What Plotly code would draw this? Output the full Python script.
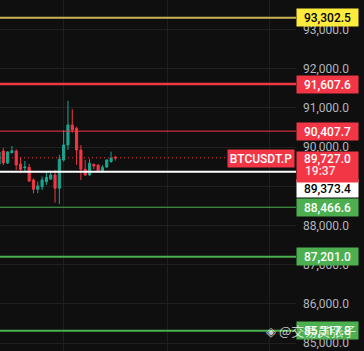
import plotly.graph_objects as go

# ---------------- data ----------------
candle_idx = list(range(28))
opens = [89560, 89901, 89595, 89858, 89901, 89570, 89473, 89486, 89162, 88924,
         88991, 89118, 89187, 89289, 88950, 89672, 90055, 90565, 90480, 89927,
         89435, 89289, 89562, 89544, 89373, 89493, 89629, 89745]
highs = [89910, 89978, 89901, 90029, 89945, 89741, 89646, 89570, 89205, 89118,
         89246, 89373, 89399, 89417, 89799, 90437, 91185, 90965, 90521, 90055,
         89672, 89690, 89570, 89557, 89544, 89690, 89884, 89774]
lows = [89520, 89544, 89570, 89838, 89417, 89333, 89391, 89111, 88822, 88822,
        88907, 89034, 89162, 88583, 88549, 89629, 89927, 90368, 89544, 89162,
        89264, 89264, 89435, 89366, 89348, 89468, 89603, 89654]
closes = [89876, 89595, 89876, 89909, 89544, 89435, 89493, 89136, 88924, 89009,
          89162, 89231, 89289, 88950, 89690, 90055, 90565, 90437, 89927, 89435,
          89289, 89588, 89519, 89373, 89486, 89672, 89715, 89727]

y_ticks = [85000, 86000, 87000, 88000, 89000, 90000, 91000, 92000, 93000]
y_tick_labels = ["85,000.0", "86,000.0", "87,000.0", "88,000.0", "89,000.0",
                 "90,000.0", "91,000.0", "92,000.0", "93,000.0"]

level_prices = [93302.5, 91607.6, 90407.7, 89373.4, 88466.6, 87201.0, 85317.8]
level_labels = ["93,302.5", "91,607.6", "90,407.7", "89,373.4", "88,466.6",
                "87,201.0", "85,317.8"]

last_price = 89727.0
last_price_label = "89,727.0"
countdown = "19:37"
symbol = "BTCUSDT.P"
watermark = "@交易员张子"

# ---------------- styles ----------------
BG = "#0f0f0f"
GRID = "#1f1f1f"
UP = "#1aa58f"
DOWN = "#f23645"
line_colors = ["#c9b458", "#f23645", "#f23645", "#ffffff", "#4caf50", "#4caf50", "#4caf50"]
line_widths = [2, 2.5, 1, 2, 1, 2, 2]
box_colors = ["#ffeb3b", "#f23645", "#f23645", "#ffffff", "#4caf50", "#4caf50", "#4caf50"]
text_colors = ["#000000", "#ffffff", "#ffffff", "#000000", "#ffffff", "#ffffff", "#ffffff"]
box_yshift = [0, 0, 0, -17, 0, 0, 0]
FONT = "Roboto"

fig = go.Figure()
fig.add_trace(go.Candlestick(
    x=candle_idx, open=opens, high=highs, low=lows, close=closes,
    increasing=dict(line=dict(color=UP, width=1), fillcolor=UP),
    decreasing=dict(line=dict(color=DOWN, width=1), fillcolor=DOWN),
    whiskerwidth=0, showlegend=False, hoverinfo="skip",
))

shapes = [dict(type="line", xref="paper", x0=0, x1=1, yref="y",
               y0=last_price, y1=last_price, layer="below",
               line=dict(color=DOWN, width=1, dash="1px,3px"))]
for p, c, w in zip(level_prices, line_colors, line_widths):
    shapes.append(dict(type="line", xref="paper", x0=0, x1=1, yref="y",
                       y0=p, y1=p, layer="above", line=dict(color=c, width=w)))

annotations = []
for p, lab, bc, tc, ys in zip(level_prices, level_labels, box_colors, text_colors, box_yshift):
    annotations.append(dict(
        xref="paper", x=1, xanchor="left", yref="y", y=p, yanchor="middle",
        yshift=ys, text=lab, showarrow=False, bgcolor=bc, borderpad=1,
        width=59, height=15, align="center",
        font=dict(family=FONT, size=12, color=tc, weight=500)))

# last price box (tall, with countdown inside)
annotations.append(dict(
    xref="paper", x=1, xanchor="left", yref="y", y=last_price, yanchor="top",
    yshift=7, text=last_price_label, showarrow=False,
    bgcolor=DOWN, borderpad=0, width=61, height=30, align="center", valign="top",
    font=dict(family=FONT, size=12, color="#ffffff", weight=500)))
annotations.append(dict(
    xref="paper", x=1, xanchor="left", xshift=7, yref="y", y=last_price,
    yanchor="middle", yshift=-13, text=countdown, showarrow=False,
    font=dict(family=FONT, size=12, color="#ffe3e6", weight=500)))

# symbol tag
annotations.append(dict(
    xref="paper", x=1, xanchor="right", xshift=-1, yref="y", y=last_price,
    yanchor="middle", yshift=-1, text=symbol, showarrow=False, bgcolor=DOWN,
    borderpad=1, width=64, height=15, align="center",
    font=dict(family=FONT, size=12, color="#ffffff", weight=500)))

# watermark
annotations.append(dict(
    xref="paper", x=358 / 296, xanchor="right", yref="y", y=level_prices[-1],
    yanchor="middle", text="◈ " + watermark, showarrow=False,
    font=dict(family="Noto Sans CJK SC", size=13, color="rgba(255,255,255,0.75)")))

fig.update_layout(
    width=364, height=351,
    margin=dict(l=0, r=68, t=0, b=0),
    paper_bgcolor=BG, plot_bgcolor=BG,
    shapes=shapes, annotations=annotations,
    xaxis=dict(range=[0.232, 68.91], showticklabels=False, ticks="",
               tickvals=[14.85, 38.98, 62.65], gridcolor=GRID, gridwidth=1,
               zeroline=False, showline=False, rangeslider=dict(visible=False),
               fixedrange=True),
    yaxis=dict(range=[84799, 93753], side="right", tickvals=y_ticks,
               ticktext=y_tick_labels, gridcolor=GRID, gridwidth=1,
               zeroline=False, showline=False, ticks="",
               tickfont=dict(family=FONT, size=12, color="#b2b5be"),
               ticklabelstandoff=6, fixedrange=True),
    showlegend=False,
)

fig.write_html("out.html", config={"displayModeBar": False})
